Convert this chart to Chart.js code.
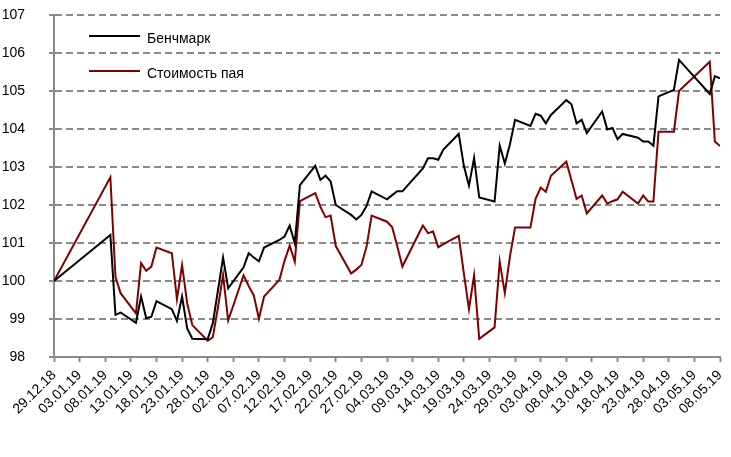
<!DOCTYPE html>
<html>
<head>
<meta charset="utf-8">
<script src="https://cdn.jsdelivr.net/npm/chart.js@4"></script>
<style>
  html, body { margin: 0; padding: 0; background: #fff; }
  #c { display: block; }
</style>
</head>
<body>
<canvas id="c" width="731" height="457"></canvas>
<script>
const DATES = [
  "29.12.18", "09.01.19", "10.01.19", "11.01.19", "14.01.19", "15.01.19", "16.01.19", "17.01.19", "18.01.19",
  "21.01.19", "22.01.19", "23.01.19", "24.01.19", "25.01.19", "28.01.19", "29.01.19", "30.01.19", "31.01.19",
  "01.02.19", "04.02.19", "05.02.19", "06.02.19", "07.02.19", "08.02.19", "11.02.19", "12.02.19", "13.02.19",
  "14.02.19", "15.02.19", "18.02.19", "19.02.19", "20.02.19", "21.02.19", "22.02.19", "25.02.19", "26.02.19",
  "27.02.19", "28.02.19", "01.03.19", "04.03.19", "05.03.19", "06.03.19", "07.03.19", "11.03.19", "12.03.19",
  "13.03.19", "14.03.19", "15.03.19", "18.03.19", "19.03.19", "20.03.19", "21.03.19", "22.03.19", "25.03.19",
  "26.03.19", "27.03.19", "28.03.19", "29.03.19", "01.04.19", "02.04.19", "03.04.19", "04.04.19", "05.04.19",
  "08.04.19", "09.04.19", "10.04.19", "11.04.19", "12.04.19", "15.04.19", "16.04.19", "17.04.19", "18.04.19",
  "19.04.19", "22.04.19", "23.04.19", "24.04.19", "25.04.19", "26.04.19", "29.04.19", "30.04.19", "06.05.19",
  "07.05.19", "08.05.19"
];

const BENCHMARK = [
  100, 101.21, 99.11, 99.17, 98.90, 99.59, 99.02, 99.06, 99.47,
  99.26, 98.95, 99.59, 98.75, 98.48, 98.47, 98.89, 99.75, 100.62,
  99.81, 100.36, 100.73, 100.62, 100.52, 100.88, 101.08, 101.17, 101.46,
  100.99, 102.52, 103.03, 102.66, 102.77, 102.62, 102.00, 101.74, 101.62,
  101.74, 101.97, 102.36, 102.15, 102.26, 102.36, 102.36, 102.96, 103.23,
  103.23, 103.19, 103.46, 103.87, 103.03, 102.51, 103.24, 102.20, 102.09,
  103.56, 103.09, 103.60, 104.24, 104.08, 104.40, 104.35, 104.15, 104.37,
  104.76, 104.65, 104.15, 104.24, 103.89, 104.46, 103.99, 104.03, 103.73,
  103.87, 103.77, 103.67, 103.67, 103.56, 104.86, 105.03, 105.82, 104.92,
  105.39, 105.33
];

const UNIT_VALUE = [
  100, 102.73, 100.11, 99.68, 99.15, 100.47, 100.27, 100.38, 100.88,
  100.73, 99.52, 100.42, 99.41, 98.84, 98.43, 98.52, 99.30, 100.16,
  98.96, 100.15, 99.87, 99.62, 99.01, 99.59, 100.03, 100.53, 100.93,
  100.51, 102.10, 102.31, 101.95, 101.68, 101.72, 100.92, 100.20, 100.30,
  100.42, 100.90, 101.72, 101.56, 101.42, 100.92, 100.38, 101.46, 101.26,
  101.30, 100.89, 100.97, 101.19, 100.20, 99.26, 100.15, 98.48, 98.78,
  100.51, 99.68, 100.65, 101.41, 101.41, 102.16, 102.46, 102.35, 102.77,
  103.14, 102.65, 102.16, 102.25, 101.78, 102.25, 102.04, 102.10, 102.15,
  102.35, 102.04, 102.25, 102.09, 102.09, 103.93, 103.93, 105.00, 105.77,
  103.67, 103.55
];

const SERIES_NAMES = ["Бенчмарк", "Стоимость пая"];
const Y_MIN = 98, Y_MAX = 107;
const TICK_DAYS = 5;

const START = Date.UTC(2018, 11, 29);
const DAY = 86400000;

function dayIndex(s) {
  const [d, m, y] = s.split(".").map(Number);
  return Math.round((Date.UTC(2000 + y, m - 1, d) - START) / DAY);
}

function fmtDay(n) {
  const dt = new Date(START + n * DAY);
  const p = (v) => String(v).padStart(2, "0");
  return p(dt.getUTCDate()) + "." + p(dt.getUTCMonth() + 1) + "." + p(dt.getUTCFullYear() % 100);
}

const xs = DATES.map(dayIndex);
const LAST_DAY = xs[xs.length - 1];
const toPoints = (vals) => vals.map((v, i) => ({ x: xs[i], y: v }));

const GRAY = "#8a8a8a";
const FONT = "'Liberation Sans', Arial, sans-serif";

// legend drawn inside the plot, top-left
const innerLegend = {
  id: "innerLegend",
  afterDraw(chart) {
    const { ctx, chartArea } = chart;
    ctx.save();
    ctx.font = "14px " + FONT;
    ctx.textBaseline = "middle";
    ctx.fillStyle = "#000";
    chart.data.datasets.forEach((ds, i) => {
      const y = chartArea.top + 21 + i * 35;
      const x0 = chartArea.left + 35;
      ctx.strokeStyle = ds.borderColor;
      ctx.lineWidth = 2;
      ctx.beginPath();
      ctx.moveTo(x0, y);
      ctx.lineTo(x0 + 51, y);
      ctx.stroke();
      ctx.fillText(ds.label, x0 + 58, y + 3);
    });
    ctx.restore();
  }
};

new Chart(document.getElementById("c"), {
  type: "line",
  data: {
    datasets: [
      { label: SERIES_NAMES[0], data: toPoints(BENCHMARK), borderColor: "#000000", borderWidth: 2 },
      { label: SERIES_NAMES[1], data: toPoints(UNIT_VALUE), borderColor: "#800000", borderWidth: 2 }
    ]
  },
  options: {
    responsive: false,
    animation: false,
    devicePixelRatio: 1,
    layout: { padding: { top: 15, right: 11, left: 0, bottom: 0 } },
    elements: { point: { radius: 0 }, line: { tension: 0 } },
    plugins: { legend: { display: false }, tooltip: { enabled: false } },
    scales: {
      x: {
        type: "linear",
        min: 0,
        max: LAST_DAY,
        afterFit: (s) => { s.height = 100; s.paddingLeft = 0; s.paddingRight = 0; },
        afterBuildTicks: (s) => {
          const t = [];
          for (let d = 0; d <= LAST_DAY; d += TICK_DAYS) t.push({ value: d });
          s.ticks = t;
        },
        ticks: {
          autoSkip: false,
          minRotation: 45,
          maxRotation: 45,
          padding: 5,
          color: "#000",
          font: { family: FONT, size: 14 },
          callback: (v) => fmtDay(v)
        },
        grid: { drawOnChartArea: false, drawTicks: true, tickLength: 5, tickColor: GRAY, tickWidth: 2 },
        border: { color: GRAY, width: 2 }
      },
      y: {
        min: Y_MIN,
        max: Y_MAX,
        afterFit: (s) => { s.width = 54; s.paddingTop = 0; s.paddingBottom = 0; },
        ticks: {
          stepSize: 1,
          padding: 24,
          color: "#000",
          font: { family: FONT, size: 14 }
        },
        grid: { color: GRAY, lineWidth: 2, tickLength: 5, tickColor: GRAY, tickWidth: 2 },
        border: { color: GRAY, width: 2, dash: [7, 4] }
      }
    }
  },
  plugins: [innerLegend]
});
</script>
</body>
</html>
